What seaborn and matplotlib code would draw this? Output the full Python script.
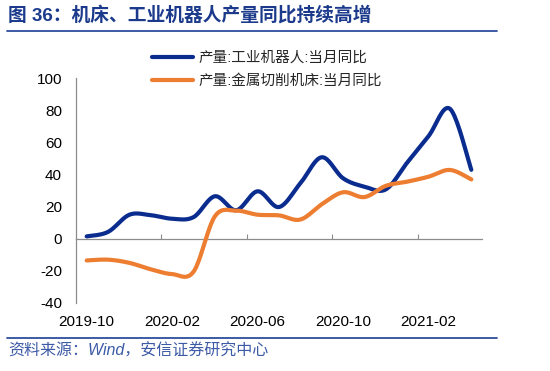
import numpy as np
import pandas as pd
import matplotlib
matplotlib.use('Agg')
import matplotlib.pyplot as plt
from matplotlib.lines import Line2D
import seaborn as sns

# Monthly data, Oct 2019 - Apr 2021 (YoY, %)
months = ['2019-10', '2019-11', '2019-12', '2020-01', '2020-02', '2020-03', '2020-04',
          '2020-05', '2020-06', '2020-07', '2020-08', '2020-09', '2020-10', '2020-11',
          '2020-12', '2021-01', '2021-02', '2021-03', '2021-04']
robot_yoy = [1.5, 4.3, 15.0, 14.7, 12.5, 13.5, 26.5, 17.8, 29.6, 19.8, 34.6, 50.8,
             37.7, 32.5, 30.8, 47.5, 64.0, 81.0, 43.0]
tool_yoy = [-13.5, -13.0, -15.0, -19.0, -22.0, -20.5, 14.0, 17.5, 15.0, 14.6, 12.0, 21.5,
            29.0, 26.0, 33.0, 35.6, 38.7, 42.9, 37.0]
robot_label = '产量:工业机器人:当月同比'
tool_label = '产量:金属切削机床:当月同比'
y_ticks = [-40, -20, 0, 20, 40, 60, 80, 100]

title = '图 36：机床、工业机器人产量同比持续高增'
source = '资料来源：Wind，安信证券研究中心'

BLUE = '#0b2c8f'
ORANGE = '#ed7d31'
GRID = '#8c8c8c'
DECO = '#2d4e9e'


def smooth(y, n=20):
    # Excel-style smoothed line: cubic Bezier, control points from neighbours
    pts = np.column_stack([np.arange(len(y), dtype=float), np.asarray(y, float)])
    padded = np.vstack([pts[0], pts, pts[-1]])
    t = np.linspace(0, 1, n, endpoint=False)[:, None]
    out = []
    for i in range(len(pts) - 1):
        p0, p3 = pts[i], pts[i + 1]
        p1 = p0 + (padded[i + 2] - padded[i]) / 6
        p2 = p3 - (padded[i + 3] - padded[i + 1]) / 6
        out.append((1 - t) ** 3 * p0 + 3 * (1 - t) ** 2 * t * p1
                   + 3 * (1 - t) * t ** 2 * p2 + t ** 3 * p3)
    out.append(pts[-1:])
    return np.vstack(out)


frames = []
for name, vals in [(robot_label, robot_yoy), (tool_label, tool_yoy)]:
    xy = smooth(vals)
    frames.append(pd.DataFrame({'x': xy[:, 0], 'value': xy[:, 1], 'series': name}))
df = pd.concat(frames, ignore_index=True)

sns.set_theme(style='white')
plt.rcParams['font.family'] = ['Liberation Sans', 'Noto Sans CJK SC']
plt.rcParams['lines.solid_capstyle'] = 'round'
plt.rcParams['axes.unicode_minus'] = False

fig = plt.figure(figsize=(5.5, 3.71), dpi=100)
ax = fig.add_axes([76 / 550, 1 - 303 / 371, 406 / 550, (303 - 78.3) / 371])

sns.lineplot(data=df, x='x', y='value', hue='series', estimator=None, sort=False,
             palette={robot_label: BLUE, tool_label: ORANGE}, linewidth=3,
             legend=False, ax=ax)

ax.set_xlim(-0.5, len(months) - 0.5)
ax.set_ylim(y_ticks[0], y_ticks[-1])
ax.set_xlabel('')
ax.set_ylabel('')

# x labels at the bottom, every 4th month
ax.set_xticks(range(0, len(months), 4))
ax.set_xticklabels(months[::4])
ax.tick_params(axis='x', length=0, pad=9, labelsize=11, colors='black')
ax.set_yticks(y_ticks)
ax.tick_params(axis='y', direction='in', length=3.5, width=0.8, color=GRID,
               pad=10, labelsize=11, labelcolor='black')

for side in ['top', 'right', 'bottom']:
    ax.spines[side].set_visible(False)
ax.spines['left'].set_color(GRID)
ax.spines['left'].set_linewidth(0.9)

# zero line with category-boundary ticks
zero_pos = (0 - y_ticks[0]) / (y_ticks[-1] - y_ticks[0])
sec = ax.secondary_xaxis(zero_pos)
sec.set_xticks(np.arange(3.5, len(months) - 1, 4))
sec.set_xticklabels([])
sec.tick_params(direction='in', length=3.5, width=0.8, color=GRID)
sec.spines['bottom'].set_color(GRID)
sec.spines['bottom'].set_linewidth(0.9)

handles = [Line2D([], [], color=BLUE, lw=3), Line2D([], [], color=ORANGE, lw=3)]
fig.legend(handles, [robot_label, tool_label], loc='upper left',
           bbox_to_anchor=(152 / 550, 1 - 51 / 371), frameon=False, fontsize=10.5,
           handlelength=2.8, handletextpad=0.4, labelspacing=0.62,
           borderpad=0, borderaxespad=0)

# header / footer
fig.text(8 / 550, 1 - 15.5 / 371, title, fontsize=13.5, fontweight='bold',
         color='#1b3a8c', va='center', ha='left')
fig.add_artist(Line2D([7 / 550, 497 / 550], [1 - 30.7 / 371] * 2, color=DECO, lw=1.3))
fig.add_artist(Line2D([7 / 550, 497 / 550], [1 - 337.5 / 371] * 2, color=DECO, lw=1.3))
fig.text(8 / 550, 1 - 351 / 371, source, fontsize=11.5, style='italic',
         color='#3c5aa6', va='center', ha='left')

fig.savefig('out.png', dpi=100)
